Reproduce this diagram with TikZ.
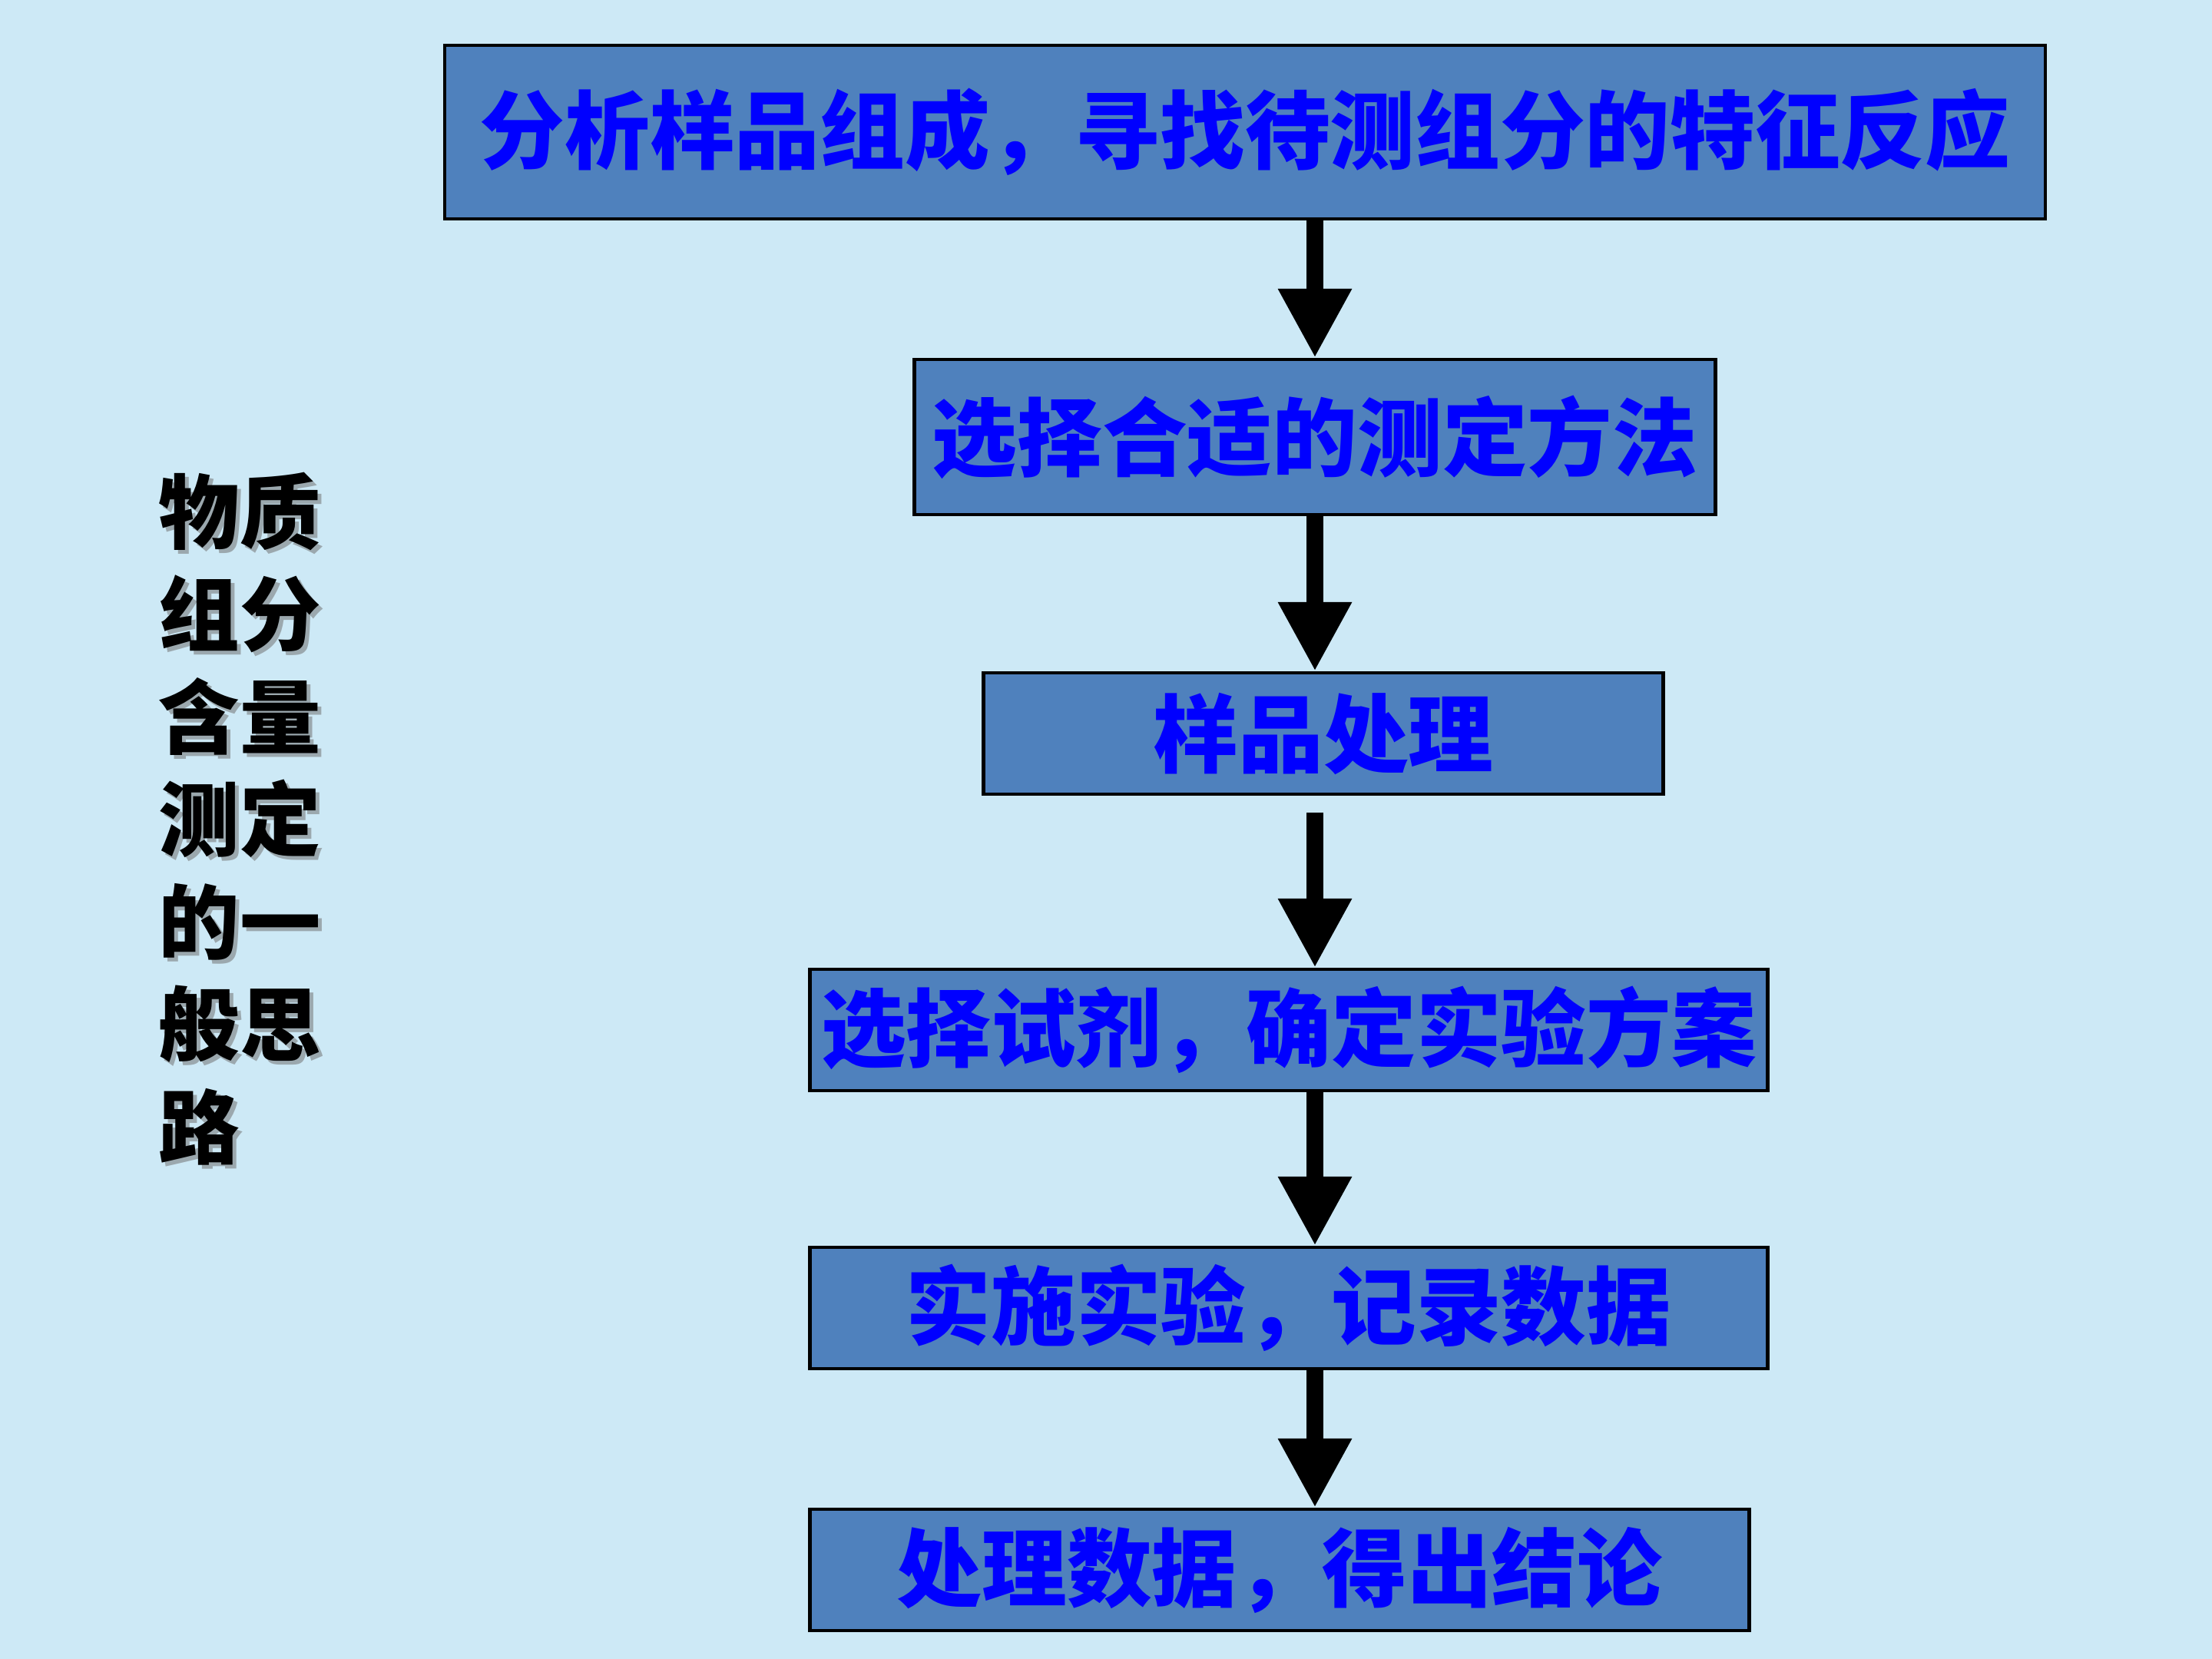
\documentclass[tikz,border=0pt]{standalone}
\usepackage{fontspec}
\usepackage{xcolor}
\usepackage{tikz}
\usetikzlibrary{arrows.meta,calc}
\newfontfamily\cjk{Noto Sans CJK SC}

\definecolor{paper}{RGB}{205,233,246}
\definecolor{boxblue}{RGB}{79,129,189}
\definecolor{inkblue}{RGB}{0,0,255}

\begin{document}
\begin{tikzpicture}[
		stage/.style={draw=black, line width=1.2pt, fill=boxblue, inner sep=0pt,
			text=inkblue, font=\cjk\bfseries\fontsize{31.5}{38}\selectfont},
		flow/.style={line width=0.22cm, -{Triangle[length=0.9cm,width=0.9cm]}}]
			% page
			\fill[paper] (0,0) rectangle (28.8,-21.6);
			% side title with its shadow
			\node[anchor=north west, align=left, inner sep=0pt, text=black!55, opacity=0.55,
				font=\cjk\bfseries\fontsize{30}{38}\selectfont] (titleshadow) at (2.11,-6.19)
				{物质\\组分\\含量\\测定\\的一\\般思\\路};
			\node[anchor=north west, align=left, inner sep=0pt, text=black,
				font=\cjk\bfseries\fontsize{30}{38}\selectfont] (title) at (2.06,-6.14)
				{物质\\组分\\含量\\测定\\的一\\般思\\路};
			% steps
			\node[stage, minimum width=20.84cm, minimum height=2.26cm] (analyse) at (16.21,-1.72) {分析样品组成，寻找待测组分的特征反应};
			\node[stage, minimum width=10.43cm, minimum height=2.02cm] (method) at (17.12,-5.69) {选择合适的测定方法};
			\node[stage, minimum width=8.85cm, minimum height=1.58cm] (sample) at (17.23,-9.55) {样品处理};
			\node[stage, minimum width=12.47cm, minimum height=1.58cm] (reagent) at (16.78,-13.41) {选择试剂，确定实验方案};
			\node[stage, minimum width=12.47cm, minimum height=1.58cm] (experiment) at (16.78,-17.03) {实施实验，记录数据};
			\node[stage, minimum width=12.23cm, minimum height=1.58cm] (conclusion) at (16.66,-20.44) {处理数据，得出结论};
			% arrows
			\draw[flow] (analyse.south -| method.south) -- (method.north);
			\draw[flow] (method.south) -- (sample.north -| method.south);
			\draw[flow] ($(sample.south -| method.south)+(0,-0.22)$) -- (reagent.north -| method.south);
			\draw[flow] (reagent.south -| method.south) -- (experiment.north -| method.south);
			\draw[flow] (experiment.south -| method.south) -- (conclusion.north -| method.south);
		\end{tikzpicture}
\end{document}
